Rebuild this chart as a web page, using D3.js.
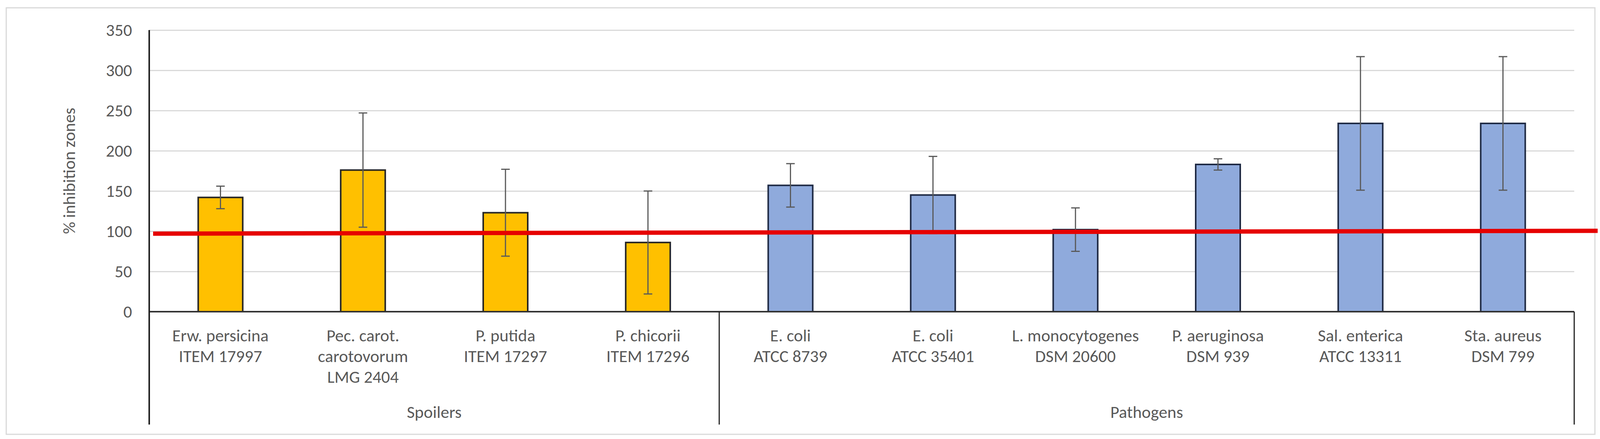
<!DOCTYPE html>
<html lang="en">
<head>
<meta charset="utf-8" />
<title>% inhibition zones</title>
<script src="https://cdn.jsdelivr.net/npm/d3@7/dist/d3.min.js"></script>
<style>
  body { margin: 0; background: #fff; }
  text { font-family: Carlito, Calibri, Lato, "Liberation Sans", sans-serif; fill: #595959; }
</style>
</head>
<body>
<script>
// data
var labels = [
  ["Erw. persicina", "ITEM 17997"],
  ["Pec. carot.", "carotovorum", "LMG 2404"],
  ["P. putida", "ITEM 17297"],
  ["P. chicorii", "ITEM 17296"],
  ["E. coli", "ATCC 8739"],
  ["E. coli", "ATCC 35401"],
  ["L. monocytogenes", "DSM 20600"],
  ["P. aeruginosa", "DSM 939"],
  ["Sal. enterica", "ATCC 13311"],
  ["Sta. aureus", "DSM 799"]
];
var means  = [142, 176, 123, 86, 157, 145, 102, 183, 234, 234];
var errors = [14, 71, 54, 64, 27, 48, 27, 7, 83, 83];
var groupOf = ["Spoilers", "Spoilers", "Spoilers", "Spoilers",
               "Pathogens", "Pathogens", "Pathogens", "Pathogens", "Pathogens", "Pathogens"];
var groups = ["Spoilers", "Pathogens"];
var yTicks = [0, 50, 100, 150, 200, 250, 300, 350];
var threshold = [97, 100.5]; // hand drawn red line, left and right end

var W = 4102, H = 1124;
// note: "top" is taken by window.top, so plot edges get a p prefix
var pLeft = 382, pRight = 4030, pTop = 77, pBase = 798, pBottom = 1087;
var fs = 44;

var svg = d3.select('body').append('svg')
  .attr('width', W)
  .attr('height', H);

// frame
svg.append('rect')
  .attr('x', 16).attr('y', 20)
  .attr('width', 4083 - 16).attr('height', 1112 - 20)
  .attr('fill', '#fff')
  .attr('stroke', '#d9d9d9')
  .attr('stroke-width', 3);

var x = d3.scaleBand()
  .domain(d3.range(labels.length))
  .range([pLeft, pRight])
  .paddingInner(0.6875)
  .paddingOuter(0.6875 / 2);
var step = x.step();

var y = d3.scaleLinear().domain([0, 350]).range([pBase, pTop]);

// gridlines + tick labels
var yAxis = svg.append('g')
  .attr('transform', 'translate(' + pLeft + ',0)')
  .call(d3.axisLeft(y).tickValues(yTicks).tickSize(-(pRight - pLeft)).tickPadding(44));
yAxis.select('.domain').remove();
yAxis.selectAll('.tick line').attr('stroke', '#d9d9d9').attr('stroke-width', 3);
yAxis.selectAll('.tick text')
  .style('font-size', fs + 'px')
  .attr('font-family', null)
  .attr('fill', '#595959');

// axis title
svg.append('text')
  .attr('transform', 'translate(192,' + ((pTop + pBase) / 2) + ') rotate(-90)')
  .attr('text-anchor', 'middle')
  .style('font-size', fs + 'px')
  .text('% inhibition zones');

// bars
var color = { Spoilers: '#FFC000', Pathogens: '#8FAADC' };
var edge = { Spoilers: '#262626', Pathogens: '#1f2a44' };
svg.append('g').selectAll('rect')
  .data(means)
  .enter().append('rect')
  .attr('x', function(d, i) { return x(i); })
  .attr('y', function(d) { return y(d); })
  .attr('width', x.bandwidth())
  .attr('height', function(d) { return y(0) - y(d); })
  .attr('fill', function(d, i) { return color[groupOf[i]]; })
  .attr('stroke', function(d, i) { return edge[groupOf[i]]; })
  .attr('stroke-width', 4);

// error bars
var eb = svg.append('g').attr('stroke', '#595959').attr('stroke-width', 3);
means.forEach(function(m, i) {
  var cx = x(i) + x.bandwidth() / 2;
  var hi = y(m + errors[i]), lo = y(m - errors[i]);
  eb.append('line').attr('x1', cx).attr('x2', cx).attr('y1', hi).attr('y2', lo);
  eb.append('line').attr('x1', cx - 11).attr('x2', cx + 11).attr('y1', hi).attr('y2', hi);
  eb.append('line').attr('x1', cx - 11).attr('x2', cx + 11).attr('y1', lo).attr('y2', lo);
});

// category axis lines
svg.append('line')
  .attr('x1', pLeft).attr('x2', pRight).attr('y1', y(0)).attr('y2', y(0))
  .attr('stroke', '#333').attr('stroke-width', 4);
svg.append('line')
  .attr('x1', pLeft).attr('x2', pLeft).attr('y1', pTop).attr('y2', pBottom)
  .attr('stroke', '#222').attr('stroke-width', 4);

// group boundaries
var bounds = [];
groups.forEach(function(g) {
  var idx = d3.range(labels.length).filter(function(i) { return groupOf[i] === g; });
  bounds.push({ name: g, x0: pLeft + step * idx[0], x1: pLeft + step * (idx[idx.length - 1] + 1) });
});
svg.append('g').selectAll('line')
  .data(bounds)
  .enter().append('line')
  .attr('x1', function(d) { return d.x1; })
  .attr('x2', function(d) { return d.x1; })
  .attr('y1', y(0)).attr('y2', pBottom)
  .attr('stroke', '#222').attr('stroke-width', 3);
svg.append('g').selectAll('text')
  .data(bounds)
  .enter().append('text')
  .attr('x', function(d) { return (d.x0 + d.x1) / 2; })
  .attr('y', 1070)
  .attr('text-anchor', 'middle')
  .style('font-size', fs + 'px')
  .text(function(d) { return d.name; });

// category labels
var lab = svg.append('g').selectAll('text')
  .data(labels)
  .enter().append('text')
  .attr('text-anchor', 'middle')
  .attr('x', function(d, i) { return x(i) + x.bandwidth() / 2; })
  .attr('y', 874)
  .style('font-size', fs + 'px');
lab.selectAll('tspan')
  .data(function(d) { return d; })
  .enter().append('tspan')
  .attr('x', function() { return d3.select(this.parentNode).attr('x'); })
  .attr('dy', function(d, j) { return j === 0 ? 0 : 53; })
  .text(function(d) { return d; });

// red reference line
svg.append('line')
  .attr('x1', 392).attr('x2', 4090)
  .attr('y1', y(threshold[0])).attr('y2', y(threshold[1]))
  .attr('stroke', '#e60000')
  .attr('stroke-width', 11);
</script>
</body>
</html>
